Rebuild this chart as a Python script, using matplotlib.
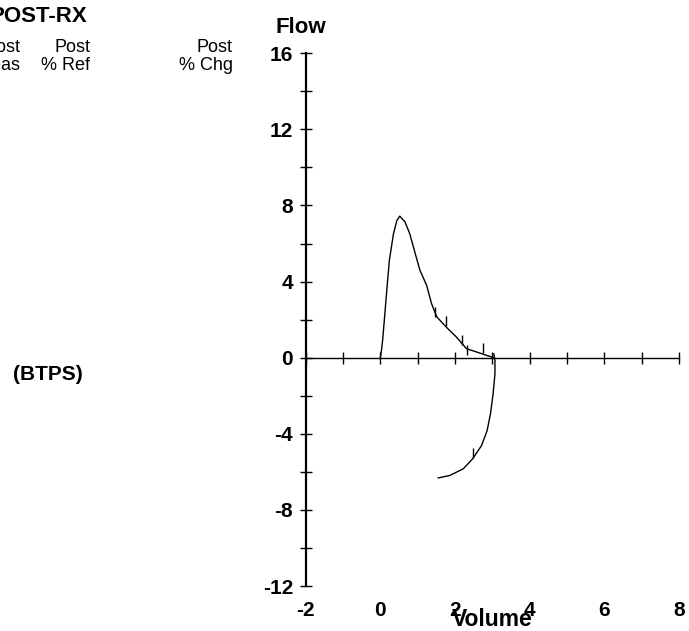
import matplotlib
matplotlib.use('Agg')
import matplotlib.pyplot as plt
from matplotlib.ticker import MultipleLocator

plt.rcParams['font.family'] = ['Liberation Sans', 'DejaVu Sans']
plt.rcParams['axes.unicode_minus'] = False

# expiratory limb of the loop (volume L, flow L/s)
exp_volume = [0.0, 0.03, 0.06, 0.12, 0.17, 0.24, 0.35, 0.44, 0.52, 0.66, 0.79, 0.93,
              1.06, 1.24, 1.37, 1.51, 1.77, 2.04, 2.31, 2.58, 2.85, 3.04]
exp_flow = [0.0, 0.4, 0.9, 2.3, 3.5, 5.1, 6.5, 7.2, 7.44, 7.14, 6.5, 5.5,
            4.6, 3.8, 2.85, 2.15, 1.6, 1.08, 0.47, 0.3, 0.12, 0.0]

# inspiratory limb
insp_volume = [3.04, 3.07, 3.07, 3.02, 2.95, 2.86, 2.71, 2.47, 2.22, 1.86, 1.55]
insp_flow = [0.2, -0.14, -0.84, -1.9, -2.95, -3.83, -4.62, -5.32, -5.84, -6.19, -6.32]

# small time marks along the curve
mark_volume = [1.46, 1.76, 2.20, 2.33, 2.76, 2.47]
mark_flow = [2.4, 1.95, 0.95, 0.4, 0.5, -5.0]

x_ticks = [-2, 0, 2, 4, 6, 8]
y_ticks = [-12, -8, -4, 0, 4, 8, 12, 16]

W, H = 689, 631
fig = plt.figure(figsize=(W / 100, H / 100), dpi=100)
ax = fig.add_axes([305.7 / W, 1 - 586 / H, (679 - 305.7) / W, (586 - 53.3) / H])

ax.plot(exp_volume, exp_flow, color='black', lw=1.0)
ax.plot(insp_volume, insp_flow, color='black', lw=1.0)
ax.plot(mark_volume, mark_flow, ls='none', marker='|', ms=7, mew=1.0, color='black')

ax.set_xlim(-2, 8)
ax.set_ylim(-12, 16)

for s in ['top', 'right']:
    ax.spines[s].set_visible(False)
ax.spines['left'].set_linewidth(1.6)
ax.spines['bottom'].set_position(('data', 0))
ax.spines['bottom'].set_linewidth(1.0)

ax.xaxis.set_major_locator(MultipleLocator(1))
ax.tick_params(axis='x', direction='inout', length=8, width=1.0, labelbottom=False)

ax.set_yticks(y_ticks)
ax.yaxis.set_minor_locator(MultipleLocator(2))
ax.tick_params(axis='y', which='both', direction='inout', length=8, width=1.0, pad=5)
for lab in ax.get_yticklabels():
    lab.set_fontsize(15)
    lab.set_fontweight('bold')

# x tick labels sit below the plot, not on the zero line
sec = ax.secondary_xaxis('bottom')
sec.spines['bottom'].set_visible(False)
sec.set_xticks(x_ticks)
sec.tick_params(length=0, pad=11)
for lab in sec.get_xticklabels():
    lab.set_fontsize(15)
    lab.set_fontweight('bold')

fig.text(301 / W, 1 - 27.5 / H, 'Flow', ha='center', va='center', fontsize=16, fontweight='bold')
fig.text(492 / W, 1 - 620 / H, 'Volume', ha='center', va='center', fontsize=16.5, fontweight='bold')

# header text on the left (partly cut off in the source)
fig.text(87 / W, 1 - 17 / H, 'POST-RX', ha='right', va='center', fontsize=16, fontweight='bold')
fig.text(20 / W, 1 - 47 / H, 'Post', ha='right', va='center', fontsize=13)
fig.text(20 / W, 1 - 65 / H, 'Meas', ha='right', va='center', fontsize=13)
fig.text(90 / W, 1 - 47 / H, 'Post', ha='right', va='center', fontsize=13)
fig.text(90 / W, 1 - 65 / H, '% Ref', ha='right', va='center', fontsize=13)
fig.text(233 / W, 1 - 47 / H, 'Post', ha='right', va='center', fontsize=13)
fig.text(233 / W, 1 - 65 / H, '% Chg', ha='right', va='center', fontsize=13)
fig.text(13 / W, 1 - 375 / H, '(BTPS)', ha='left', va='center', fontsize=15, fontweight='bold')

fig.savefig('out.png', dpi=100)
